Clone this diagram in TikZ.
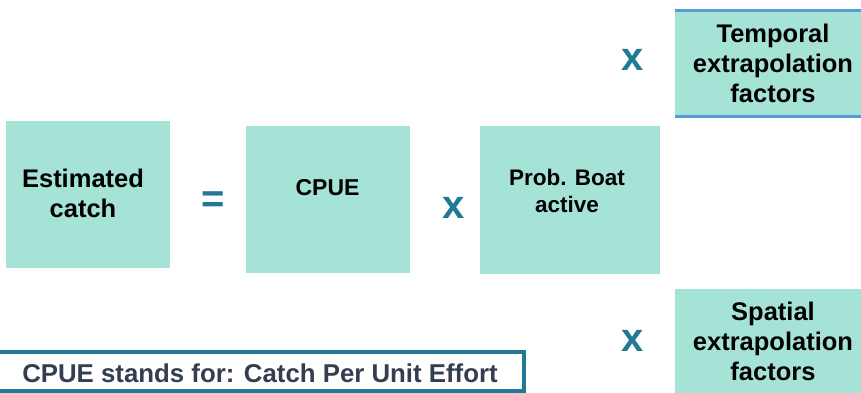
\documentclass[tikz,border=0pt]{standalone}
\usepackage{fontspec}
\setmainfont{Liberation Sans}
\definecolor{boxfill}{RGB}{166,227,215}
\definecolor{opteal}{RGB}{33,122,148}
\definecolor{edgeblue}{RGB}{91,155,213}
\definecolor{notetext}{RGB}{51,63,80}
\begin{document}
\begin{tikzpicture}[x=1pt,y=-1pt,
  boxarea/.style={fill=boxfill,draw=none},
  boxtext/.style={font=\fontsize{25.5}{30}\selectfont\bfseries,align=center,inner sep=0pt,text=black},
  smalltext/.style={font=\fontsize{23}{27}\selectfont\bfseries,align=center,inner sep=0pt,text=black},
  opsign/.style={font=\fontsize{40}{40}\selectfont\bfseries,text=opteal,inner sep=0pt},
  bluebar/.style={draw=edgeblue,line width=3pt}]
\useasboundingbox (0,0) rectangle (861,392);
% boxes
\path[boxarea] (6,121) rectangle (170,268);
\path[boxarea] (246,126) rectangle (410,273);
\path[boxarea] (480,126) rectangle (660,274);
\path[boxarea] (675,10.5) rectangle (875,116);
\draw[bluebar] (675,10.5) -- (875,10.5);
\draw[bluebar] (675,116) -- (875,116);
\path[boxarea] (675,289) rectangle (875,400);
% texts
\node[boxtext] (est) at (83,193) {Estimated\\catch};
\node[smalltext] (cpue) at (327.5,188) {CPUE};
\node[smalltext,font=\fontsize{22.5}{27}\selectfont\bfseries] (prob) at (567,190.5) {Prob. Boat\\active};
\node[boxtext] (temp) at (773,63) {Temporal\\extrapolation\\factors};
\node[boxtext] (spat) at (773,341) {Spatial\\extrapolation\\factors};
% operators
\node[opsign,anchor=center] (eq) at (213.5,202.5) {=};
\node[opsign,anchor=base] (x1) at (454,218) {x};
\node[opsign,anchor=base] (x2) at (633,70) {x};
\node[opsign,anchor=base] (x3) at (633,351) {x};
% note
\draw[draw=opteal,line width=4pt,fill=white] (-5,352) rectangle (524,390.5);
\node[font=\fontsize{25.8}{30}\selectfont\bfseries,text=notetext,anchor=base,inner sep=0pt] (note) at (260,382.5) {CPUE stands for: Catch Per Unit Effort};
\end{tikzpicture}
\end{document}
